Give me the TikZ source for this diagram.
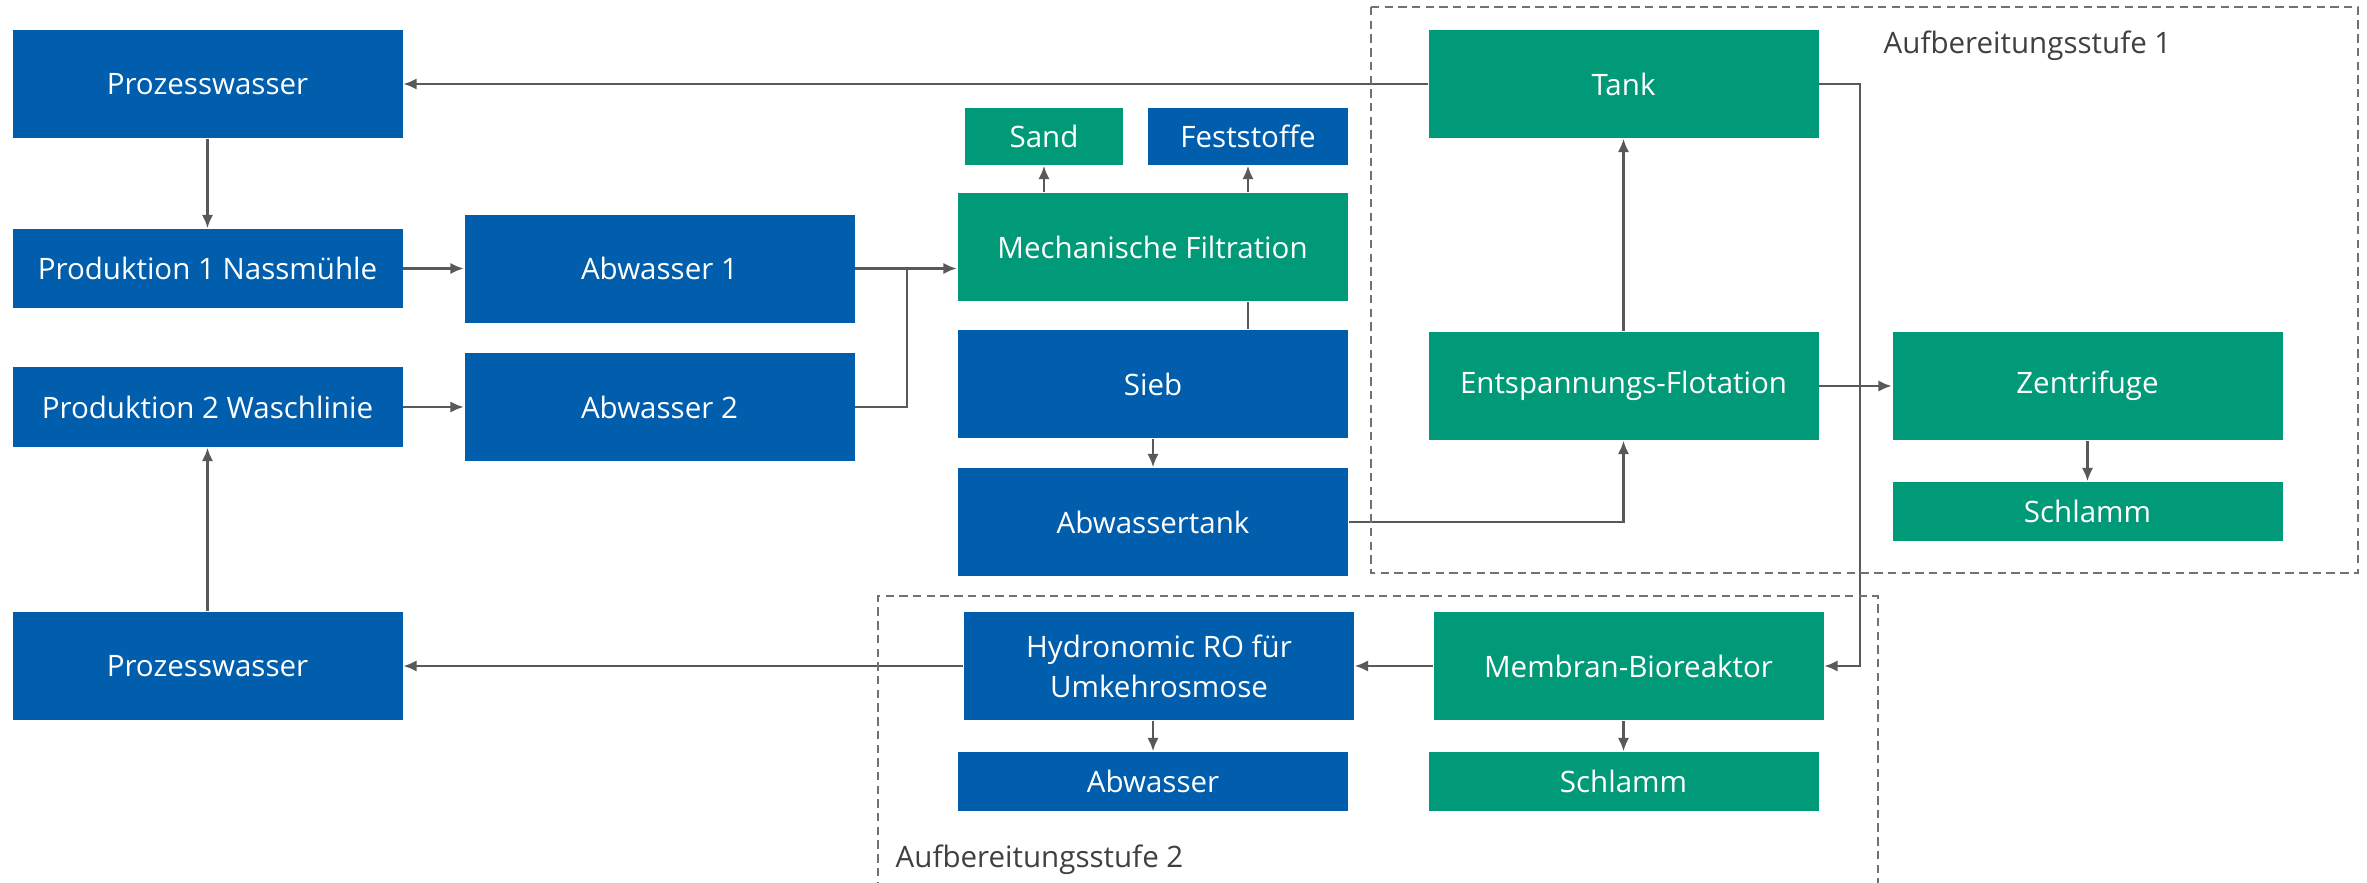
\documentclass[tikz,border=0pt]{standalone}
\usepackage{fontspec}
\setmainfont{Open Sans}
\usetikzlibrary{arrows.meta}
\definecolor{boxblue}{RGB}{0,94,172}
\definecolor{boxgreen}{RGB}{0,154,120}
\definecolor{linegray}{RGB}{89,89,89}

\begin{document}
\begin{tikzpicture}
  [font=\fontsize{8.4}{11.4}\selectfont,
   blk/.style={rectangle,inner sep=0pt,minimum width=3.9cm,minimum height=1.08cm,text=white,align=center},
   bluebox/.style={blk,fill=boxblue},
   greenbox/.style={blk,fill=boxgreen},
   flow/.style={draw=linegray,line width=0.7pt,-{Latex[length=3.8pt,width=3.2pt]}},
   stage/.style={draw=linegray!85,line width=0.45pt,dash pattern=on 2.4pt off 1.5pt},
   stagelabel/.style={anchor=west,inner sep=0pt,text=black!75}]
  \useasboundingbox (0,0) rectangle (23.67,-8.82);

  % linke Spalte
  \node[bluebox] (pw1)   at (2.075,-0.84)  {Prozesswasser};
  \node[bluebox,minimum height=0.79cm] (prod1) at (2.075,-2.685) {Produktion 1 Nassmühle};
  \node[bluebox,minimum height=0.80cm] (prod2) at (2.075,-4.07)  {Produktion 2 Waschlinie};
  \node[bluebox] (pw2)   at (2.075,-6.66)  {Prozesswasser};
  \node[bluebox] (abw1)  at (6.595,-2.685) {Abwasser 1};
  \node[bluebox] (abw2)  at (6.595,-4.07)  {Abwasser 2};

  % Filtration
  \node[greenbox,minimum width=1.58cm,minimum height=0.57cm] (sand) at (10.44,-1.365) {Sand};
  \node[bluebox,minimum width=2.0cm,minimum height=0.57cm]   (fest) at (12.48,-1.365) {Feststoffe};
  \node[greenbox] (mech)  at (11.525,-2.47) {Mechanische Filtration};
  \node[bluebox]  (sieb)  at (11.53,-3.84)  {Sieb};
  \node[bluebox]  (atank) at (11.53,-5.22)  {Abwassertank};
  \node[bluebox]  (hro)   at (11.59,-6.66)  {Hydronomic RO für\\Umkehrosmose};
  \node[bluebox,minimum height=0.59cm] (abw3) at (11.53,-7.815) {Abwasser};

  % Aufbereitung
  \node[greenbox] (tank)  at (16.235,-0.84) {Tank};
  \node[greenbox] (ef)    at (16.235,-3.86) {Entspannungs-Flotation};
  \node[greenbox] (zent)  at (20.875,-3.86) {Zentrifuge};
  \node[greenbox,minimum height=0.59cm] (schl1) at (20.875,-5.115) {Schlamm};
  \node[greenbox] (mbr)   at (16.285,-6.66) {Membran-Bioreaktor};
  \node[greenbox,minimum height=0.59cm] (schl2) at (16.235,-7.815) {Schlamm};

  \coordinate (jn) at (9.07,-2.685);

  \foreach \from/\to in {pw1/prod1,pw2/prod2,prod1/abw1,prod2/abw2,sieb/atank,
                         ef/tank,ef/zent,zent/schl1,mbr/hro,hro/pw2,tank/pw1}
    \draw[flow] (\from) -- (\to);

  \draw[flow] (mech.north -| sand) -- (sand);
  \draw[flow] (mech.north -| fest) -- (fest);
  \draw[flow,-] (mech.south -| fest) -- (sieb.north -| fest);
  \draw[flow] (abw1) -- (abw1 -| mech.west);
  \draw[flow,-] (abw2) -| (jn);
  \draw[flow] (atank) -| (ef.south);
  \draw[flow] (tank.east) -- ++(0.41,0) |- (mbr);
  \draw[flow] (mbr.south -| schl2) -- (schl2);
  \draw[flow] (hro.south -| abw3) -- (abw3);

  % Stufen
  \draw[stage] (13.71,-0.07) rectangle (23.58,-5.73);
  \draw[stage] (8.78,-8.9) |- (18.78,-5.96) -- (18.78,-8.9);
  \node[stagelabel] (st1) at (18.83,-0.46) {Aufbereitungsstufe 1};
  \node[stagelabel] (st2) at (8.95,-8.6)   {Aufbereitungsstufe 2};
\end{tikzpicture}
\end{document}
